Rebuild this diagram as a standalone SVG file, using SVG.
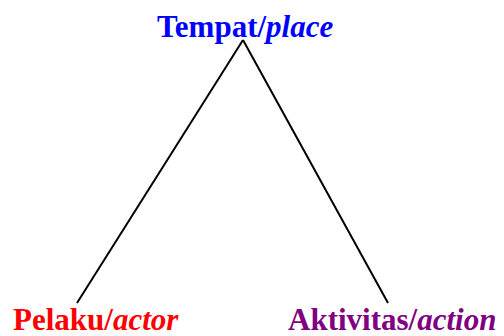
<svg xmlns="http://www.w3.org/2000/svg" width="504" height="336" viewBox="0 0 504 336">
<style>
.lbl{font-family:"Liberation Serif","Times New Roman",serif;font-weight:bold;font-size:31px}
.it{font-style:italic}
.edge{stroke:#000;stroke-width:2;fill:none}
</style>
<rect width="504" height="336" fill="#fff"/>
<g id="connectors">
<line class="edge" x1="243" y1="40" x2="77" y2="303"/>
<line class="edge" x1="243" y1="40" x2="388" y2="303"/>
</g>
<g id="place"><text class="lbl" x="157" y="36.5" fill="#0000ff">Tempat/<tspan class="it">place</tspan></text></g>
<g id="actor"><text class="lbl" x="13" y="329.5" fill="#ff0000">Pelaku/<tspan class="it">actor</tspan></text></g>
<g id="action"><text class="lbl" x="288" y="329.5" fill="#800080">Aktivitas/<tspan class="it">action</tspan></text></g>
</svg>
